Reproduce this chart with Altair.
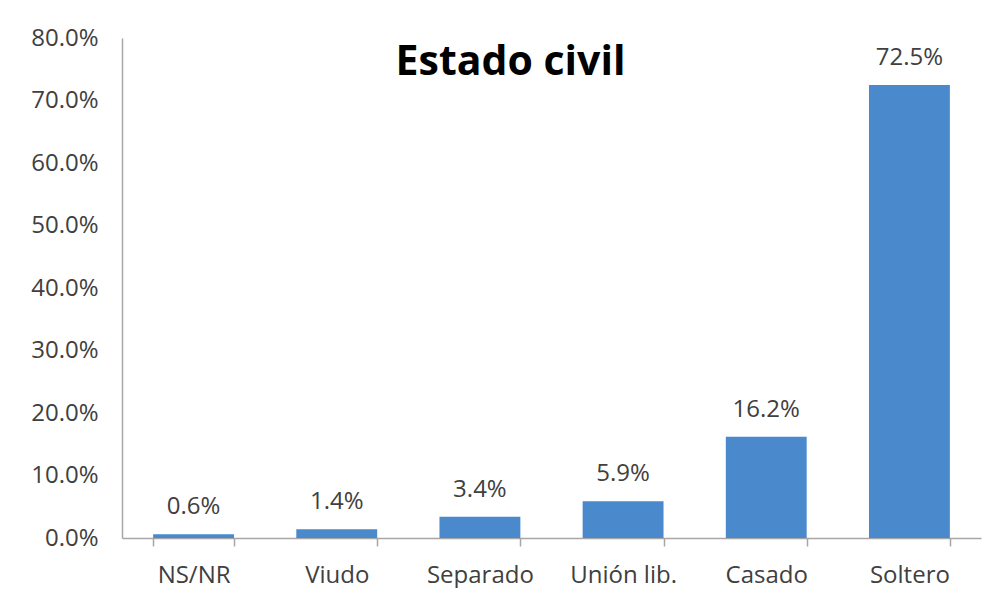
import altair as alt
import pandas as pd

categories = ["NS/NR", "Viudo", "Separado", "Unión lib.", "Casado", "Soltero"]
values = [0.006, 0.014, 0.034, 0.059, 0.162, 0.725]
labels = ["0.6%", "1.4%", "3.4%", "5.9%", "16.2%", "72.5%"]
y_ticks = [0, 0.1, 0.2, 0.3, 0.4, 0.5, 0.6, 0.7, 0.8]

df = pd.DataFrame({"cat": categories, "val": values, "lab": labels})

FONT = "Open Sans"
TXT = "#404040"
AX = "#a6a6a6"
FS = 24

x = alt.X(
    "cat:N",
    sort=categories,
    scale=alt.Scale(paddingInner=0.435, paddingOuter=0.2175),
    axis=alt.Axis(
        title=None, labelAngle=0, labelFontSize=FS, labelFont=FONT, labelColor=TXT,
        domainColor=AX, domainWidth=1.5, tickColor=AX, tickWidth=1.5, tickSize=8,
        tickBand="extent", labelPadding=17, grid=False,
    ),
)
y = alt.Y(
    "val:Q",
    scale=alt.Scale(domain=[0, 0.8], nice=False),
    axis=alt.Axis(
        title=None, values=y_ticks, format=".1%", labelFontSize=FS, labelFont=FONT,
        labelColor=TXT, domainColor=AX, domainWidth=1.5, ticks=False, labelPadding=24,
        grid=False,
    ),
)

bars = alt.Chart(df).mark_bar(color="#4a89cc").encode(x=x, y=y)
text = alt.Chart(df).mark_text(
    baseline="bottom", dy=-15, fontSize=FS, font=FONT, color=TXT
).encode(x=x, y=y, text="lab:N")

chart = (
    (bars + text)
    .properties(
        width=859,
        height=500,
        title=alt.TitleParams(
            "Estado civil", fontSize=41, font=FONT, fontWeight="bold", color="#000000",
            anchor="middle", offset=-58, dx=-41,
        ),
        padding={"left": 114, "top": 30, "right": 6, "bottom": 50},
        autosize=alt.AutoSizeParams(type="none"),
    )
    .configure_view(stroke=None)
)

chart.save("out.html", embed_options={"renderer": "svg", "actions": False})
